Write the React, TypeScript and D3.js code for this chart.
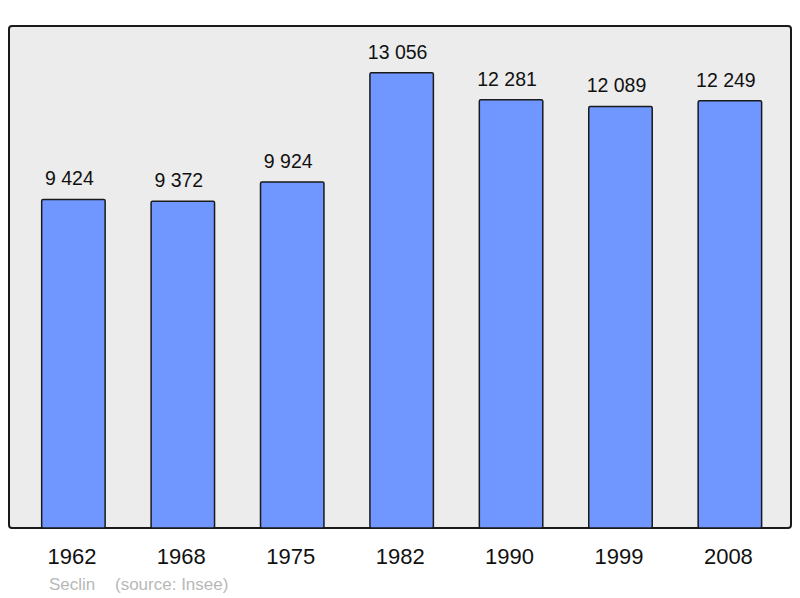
import React, { useEffect, useRef } from 'react';
import * as d3 from 'd3';

const years = ['1962', '1968', '1975', '1982', '1990', '1999', '2008'];
const population = [9424, 9372, 9924, 13056, 12281, 12089, 12249];
const valueLabels = ['9 424', '9 372', '9 924', '13 056', '12 281', '12 089', '12 249'];
const town = 'Seclin';
const source = '(source: Insee)';

const width = 800;
const height = 598;

const App: React.FC = () => {
  const svgRef = useRef<SVGSVGElement>(null);

  useEffect(() => {
    if (!svgRef.current) return;
    document.body.style.margin = '0';

    const svg = d3.select(svgRef.current);
    svg.selectAll('*').remove();

    const panel = { left: 9, top: 26, right: 791, bottom: 528 };

    // Panel background
    svg.append('rect')
      .attr('x', panel.left)
      .attr('y', panel.top)
      .attr('width', panel.right - panel.left)
      .attr('height', panel.bottom - panel.top)
      .attr('rx', 3)
      .attr('fill', '#ececec')
      .attr('stroke', '#1a1a1a')
      .attr('stroke-width', 2);

    const xScale = d3.scaleBand()
      .domain(years)
      .range([18.7, 784.6])
      .paddingInner(0.42)
      .paddingOuter(0.21);

    const yScale = d3.scaleLinear()
      .domain([0, 14396])
      .range([panel.bottom, panel.top]);

    const g = svg.append('g');

    // Bars
    g.selectAll('rect.bar')
      .data(years)
      .enter()
      .append('rect')
      .attr('class', 'bar')
      .attr('x', d => xScale(d)!)
      .attr('y', (d, i) => yScale(population[i]))
      .attr('width', xScale.bandwidth())
      .attr('height', (d, i) => panel.bottom - yScale(population[i]))
      .attr('rx', 1.5)
      .attr('fill', '#7096ff')
      .attr('stroke', '#1a1a1a')
      .attr('stroke-width', 1.5);

    // Value labels (sit slightly left of the bar centre, as in the original)
    g.selectAll('text.value')
      .data(years)
      .enter()
      .append('text')
      .attr('class', 'value')
      .attr('x', d => xScale(d)! + xScale.bandwidth() / 2 - 4)
      .attr('y', (d, i) => yScale(population[i]) - 14)
      .attr('text-anchor', 'middle')
      .style('font-family', '"Liberation Sans", Arial, sans-serif')
      .style('font-size', '19.5px')
      .style('fill', '#111')
      .text((d, i) => valueLabels[i]);

    // Year labels
    g.selectAll('text.year')
      .data(years)
      .enter()
      .append('text')
      .attr('class', 'year')
      .attr('x', d => xScale(d)! + xScale.bandwidth() / 2 - 1.5)
      .attr('y', 564)
      .attr('text-anchor', 'middle')
      .style('font-family', '"Liberation Sans", Arial, sans-serif')
      .style('font-size', '22px')
      .style('fill', '#111')
      .text(d => d);

    // Footer
    svg.append('text')
      .attr('x', 49)
      .attr('y', 590)
      .style('font-family', '"Liberation Sans", Arial, sans-serif')
      .style('font-size', '17px')
      .style('fill', '#b8b8b8')
      .text(town);

    svg.append('text')
      .attr('x', 115)
      .attr('y', 590)
      .style('font-family', '"Liberation Sans", Arial, sans-serif')
      .style('font-size', '17px')
      .style('fill', '#b8b8b8')
      .text(source);
  }, []);

  return (
    <svg
      ref={svgRef}
      width={width}
      height={height}
      style={{ position: 'absolute', left: 0, top: 0, background: '#fff' }}
    />
  );
};

export default App;
